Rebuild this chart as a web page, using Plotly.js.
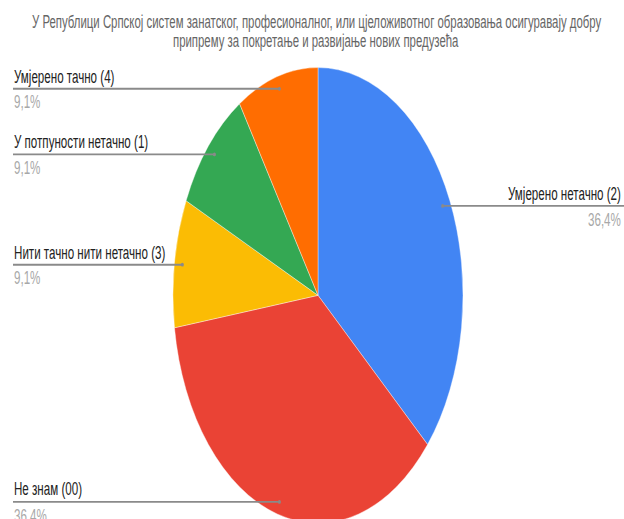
<!DOCTYPE html>
<html>
<head>
<meta charset="utf-8">
<script src="https://cdn.plot.ly/plotly-3.0.1.min.js"></script>
<style>
  html, body { margin: 0; padding: 0; background: #fff; overflow: hidden; width: 624px; height: 519px; }
  #wrap { width: 624px; height: 340px; transform: scale(1, 1.571); transform-origin: 0 0; }
  #chart { width: 624px; height: 340px; }
</style>
</head>
<body>
<div id="wrap"><div id="chart"></div></div>
<script>
// ---- data ----
const titleLines = [
  'У Републици Српској систем занатског, професионалног, или цјеложивотног образовања осигуравају добру',
  'припрему за покретање и развијање нових предузећа'
];
const labels = ['Умјерено нетачно (2)', 'Не знам (00)', 'Нити тачно нити нетачно (3)', 'У потпуности нетачно (1)', 'Умјерено тачно (4)'];
const values = [4, 4, 1, 1, 1];
const colors = ['#4285F4', '#EA4335', '#FBBC04', '#34A853', '#FF6D01'];

// ---- layout geometry ----
const W = 624, H = 340;
const domX = [0.2772, 0.7420];
const domY = [0.0206, 0.8735];
const cx = (domX[0] + domX[1]) / 2 * W;
const cy = (1 - (domY[0] + domY[1]) / 2) * H;
const r = Math.min((domX[1] - domX[0]) * W, (domY[1] - domY[0]) * H) / 2;
const total = values.reduce((a, b) => a + b, 0);
const FONT = 'Liberation Sans, Arial, sans-serif';

const shapes = [];
const annotations = [];
let cum = 0;
values.forEach((v, i) => {
  const mid = (cum + v / 2) / total * 2 * Math.PI;
  cum += v;
  const px = cx + 0.945 * r * Math.sin(mid);
  const py = cy - 0.945 * r * Math.cos(mid);
  const right = Math.sin(mid) > 0;
  const xp = px / W, yp = 1 - py / H;
  const edge = right ? 1 : 13 / W;
  shapes.push({type: 'line', xref: 'paper', yref: 'paper', x0: edge, x1: xp, y0: yp, y1: yp,
               line: {color: '#8a8a8a', width: 1.2}});
  shapes.push({type: 'circle', xref: 'paper', yref: 'paper',
               x0: xp - 1.5 / W, x1: xp + 1.5 / W, y0: yp - 1.2 / H, y1: yp + 1.2 / H,
               fillcolor: '#8a8a8a', line: {width: 0}});
  const pct = (v / total * 100).toFixed(1).replace('.', ',') + '%';
  const ax = right ? 622 / W : 13 / W;
  const anchor = right ? 'right' : 'left';
  annotations.push({xref: 'paper', yref: 'paper', x: ax, y: yp, xanchor: anchor, yanchor: 'bottom',
                    text: labels[i], showarrow: false, borderpad: 0, yshift: 1,
                    font: {family: FONT, size: 11.6, color: '#222'}});
  annotations.push({xref: 'paper', yref: 'paper', x: ax, y: yp, xanchor: anchor, yanchor: 'top',
                    text: pct, showarrow: false, borderpad: 0, yshift: -0.5,
                    font: {family: FONT, size: 11.6, color: '#a8a8a8'}});
});

titleLines.forEach((t, k) => {
  annotations.push({xref: 'paper', yref: 'paper', x: 316 / W, y: 1 - (14.5 + k * 12) / H,
                    xanchor: 'center', yanchor: 'middle', text: t, showarrow: false, borderpad: 0,
                    font: {family: FONT, size: 11.4, color: '#666'}});
});

const trace = {
  type: 'pie',
  labels: labels,
  values: values,
  marker: {colors: colors, line: {color: '#ffffff', width: 0.3}},
  sort: false,
  direction: 'clockwise',
  rotation: 0,
  textinfo: 'none',
  hoverinfo: 'none',
  domain: {x: domX, y: domY}
};

const layout = {
  width: W, height: H,
  margin: {l: 0, r: 0, t: 0, b: 0},
  showlegend: false,
  paper_bgcolor: '#ffffff',
  shapes: shapes,
  annotations: annotations
};

Plotly.newPlot('chart', [trace], layout, {displayModeBar: false, staticPlot: true});
</script>
</body>
</html>
